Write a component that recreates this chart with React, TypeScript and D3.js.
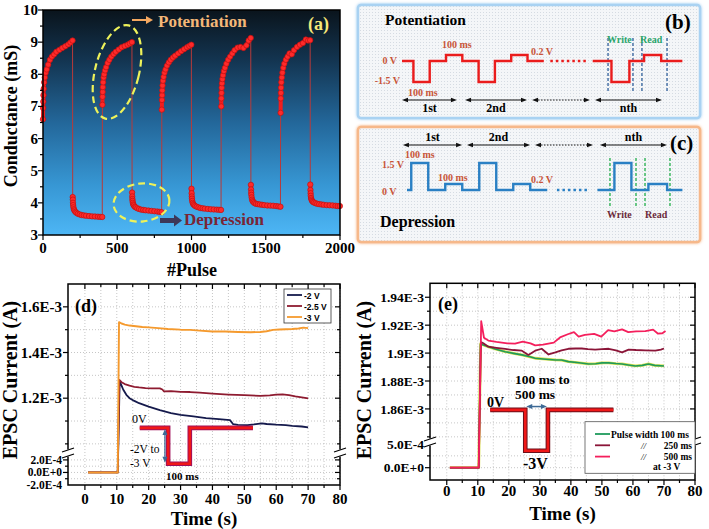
import React from "react";
import * as d3 from "d3";

const SERIF = "'Liberation Serif','Times New Roman',serif";
const SANS = "'Liberation Sans',Arial,sans-serif";

// ---------------- (a) conductance vs pulse ----------------
const pulseOffsets = [0, 1, 2, 3, 5, 8, 12, 18, 25, 35, 47, 60, 75, 90, 110, 130, 150, 170, 185, 199];
const segmentStarts = [0, 200, 400, 600, 800, 1000, 1200, 1400, 1600, 1800];
const potentiation1 = [6.6, 6.95, 7.15, 7.35, 7.55, 7.75, 7.9, 8.05, 8.15, 8.3, 8.45, 8.55, 8.62, 8.7, 8.76, 8.82, 8.87, 8.93, 8.99, 9.05];
const depression1 = [4.18, 4.1, 4.0, 3.93, 3.86, 3.8, 3.76, 3.72, 3.69, 3.66, 3.64, 3.62, 3.61, 3.6, 3.59, 3.58, 3.575, 3.57, 3.565, 3.56];
const potentiation2 = [7.05, 7.3, 7.45, 7.6, 7.75, 7.9, 8.0, 8.12, 8.22, 8.35, 8.45, 8.55, 8.63, 8.7, 8.77, 8.84, 8.88, 8.92, 8.96, 9.0];
const depression2 = [4.32, 4.2, 4.12, 4.06, 4.0, 3.95, 3.92, 3.88, 3.86, 3.83, 3.81, 3.79, 3.78, 3.77, 3.76, 3.75, 3.74, 3.73, 3.72, 3.71];
const potentiation3 = [6.9, 7.2, 7.35, 7.5, 7.65, 7.8, 7.92, 8.05, 8.15, 8.27, 8.37, 8.45, 8.52, 8.58, 8.65, 8.72, 8.78, 8.84, 8.88, 8.92];
const depression3 = [4.44, 4.3, 4.2, 4.13, 4.06, 4.0, 3.96, 3.93, 3.9, 3.88, 3.86, 3.84, 3.83, 3.82, 3.81, 3.8, 3.795, 3.79, 3.785, 3.78];
const potentiation4 = [7.0, 7.25, 7.42, 7.58, 7.72, 7.85, 7.97, 8.1, 8.2, 8.33, 8.45, 8.55, 8.65, 8.75, 8.83, 8.85, 8.82, 8.9, 9.05, 9.13];
const depression4 = [4.56, 4.42, 4.32, 4.25, 4.17, 4.1, 4.05, 4.02, 3.99, 3.97, 3.96, 3.95, 3.94, 3.93, 3.92, 3.915, 3.91, 3.9, 3.89, 3.88];
const potentiation5 = [6.8, 7.25, 7.42, 7.58, 7.75, 7.9, 8.05, 8.2, 8.33, 8.45, 8.55, 8.65, 8.62, 8.75, 8.85, 8.92, 8.97, 9.08, 9.05, 9.06];
const depression5 = [4.57, 4.4, 4.3, 4.22, 4.15, 4.1, 4.06, 4.03, 4.01, 3.99, 3.97, 3.96, 3.95, 3.94, 3.93, 3.925, 3.92, 3.91, 3.9, 3.9];
const conductanceSegments = [potentiation1, depression1, potentiation2, depression2, potentiation3, depression3, potentiation4, depression4, potentiation5, depression5];
const pulseTicks = [0, 500, 1000, 1500, 2000];
const conductanceTicks = [3, 4, 5, 6, 7, 8, 9, 10];

// ---------------- (b)/(c) schematic waveforms (t in 100 ms units, V in volts) ----------------
const potWaveFirst: [number, number][] = [[0, 0], [0.7, -1.5], [1.7, 0], [2.7, 0.2], [3.7, 0], [4.7, -1.5], [5.7, 0], [6.7, 0.2], [7.7, 0], [8.7, 0]];
const potWaveNth: [number, number][] = [[11.7, 0], [12.85, -1.5], [13.95, 0], [14.85, 0.2], [15.9, 0], [17.2, 0]];
const potDots: [number, number][] = [[9.1, 0], [11.3, 0]];
const potGuides = [12.64, 14.17, 14.72, 16.26];
const potArrows = [[0, 3.37, "1st"], [3.87, 7.67, "2nd"], [7.98, 11.53, ""], [11.84, 15.95, "nth"]];

const depWaveFirst: [number, number][] = [[0, 0], [0.25, 1.5], [1.25, 0], [2.25, 0.2], [3.25, 0], [4.25, 1.5], [5.25, 0], [6.25, 0.2], [7.25, 0], [8.25, 0]];
const depWaveNth: [number, number][] = [[11.2, 0], [12.2, 1.5], [13.2, 0], [14.2, 0.2], [15.3, 0], [16.2, 0]];
const depDots: [number, number][] = [[8.82, 0], [10.65, 0]];
const depGuides = [11.94, 13.47, 14.0, 15.47];
const depArrows = [[-0.24, 3.24, "1st"], [3.53, 7.24, "2nd"], [7.53, 10.94, ""], [11.35, 15.29, "nth"]];

// ---------------- (d) EPSC vs time, different amplitudes ----------------
const epscMinus2V: [number, number][] = [[1, 0], [10, 0], [10.3, 0], [10.9, 1.275e-3], [11.5, 1.255e-3], [12, 1.238e-3], [13, 1.215e-3], [14, 1.2e-3], [15.5, 1.188e-3], [17, 1.178e-3], [20, 1.163e-3], [23.5, 1.148e-3], [27, 1.135e-3], [30, 1.127e-3], [34, 1.12e-3], [38, 1.113e-3], [42, 1.108e-3], [45.5, 1.104e-3], [46.5, 1.086e-3], [48, 1.083e-3], [51, 1.082e-3], [53, 1.085e-3], [55.5, 1.09e-3], [57, 1.087e-3], [60, 1.084e-3], [63, 1.082e-3], [65, 1.079e-3], [68, 1.076e-3], [70, 1.072e-3]];
const epscMinus25V: [number, number][] = [[1, 0], [10, 0], [10.3, 0], [10.8, 1.28e-3], [11.5, 1.27e-3], [12.5, 1.262e-3], [14, 1.255e-3], [15.5, 1.25e-3], [17, 1.247e-3], [19, 1.244e-3], [21, 1.243e-3], [23.5, 1.243e-3], [24.3, 1.238e-3], [24.8, 1.23e-3], [27, 1.231e-3], [30, 1.228e-3], [33, 1.227e-3], [36, 1.224e-3], [40, 1.22e-3], [45, 1.216e-3], [50, 1.213e-3], [55, 1.21e-3], [58, 1.212e-3], [60, 1.216e-3], [62, 1.217e-3], [64, 1.213e-3], [66, 1.208e-3], [68, 1.204e-3], [70, 1.199e-3]];
const epscMinus3V: [number, number][] = [[1, 0], [10, 0], [10.3, 0], [10.7, 1.533e-3], [11.5, 1.527e-3], [12.5, 1.522e-3], [14, 1.518e-3], [16, 1.515e-3], [18, 1.512e-3], [20, 1.51e-3], [23, 1.507e-3], [26, 1.503e-3], [30, 1.5e-3], [33, 1.499e-3], [36, 1.496e-3], [40, 1.492e-3], [44, 1.492e-3], [48, 1.49e-3], [52, 1.489e-3], [55, 1.49e-3], [57, 1.493e-3], [59, 1.499e-3], [61, 1.501e-3], [63, 1.502e-3], [65, 1.503e-3], [67, 1.505e-3], [68.5, 1.509e-3], [70, 1.507e-3]];
const amplitudeLabels = ["-2 V", "-2.5 V", "-3 V"];
const dHighTicks = [1.2e-3, 1.4e-3, 1.6e-3];
const dHighTickLabels = ["1.2E-3", "1.4E-3", "1.6E-3"];
const dLowTicks = [-2e-4, 0, 2e-4];
const dLowTickLabels = ["-2.0E-4", "0.0E+0", "2.0E-4"];
const dHighGrid = [1.0e-3, 1.1e-3, 1.2e-3, 1.3e-3, 1.4e-3, 1.5e-3, 1.6e-3, 1.7e-3];
const dLowGrid = [-2e-4, -1e-4, 0, 1e-4, 2e-4];
const dInsetTimes = [17.2, 26.1, 32.9, 52.7];
const dInsetLevels = [1.07e-3, 0.139e-3];

// ---------------- (e) EPSC vs time, different pulse widths ----------------
const width100ms: [number, number][] = [[1, 0], [10, 0], [10.3, 0], [10.9, 1.9065e-3], [11.8, 1.9058e-3], [13.5, 1.9045e-3], [15.6, 1.903e-3], [18.8, 1.901e-3], [21.5, 1.8998e-3], [24.2, 1.8987e-3], [26.5, 1.8975e-3], [28.5, 1.8963e-3], [31, 1.8958e-3], [35, 1.8951e-3], [37, 1.895e-3], [39.2, 1.8939e-3], [42, 1.8932e-3], [45.7, 1.8922e-3], [48, 1.8924e-3], [50, 1.893e-3], [52.2, 1.893e-3], [54.5, 1.8925e-3], [56.5, 1.8922e-3], [58.5, 1.8915e-3], [60.8, 1.8908e-3], [63, 1.8912e-3], [65, 1.8922e-3], [67, 1.8912e-3], [70, 1.8908e-3]];
const width250ms: [number, number][] = [[1, 0], [10, 0], [10.3, 0], [11, 1.908e-3], [11.8, 1.907e-3], [13.4, 1.9046e-3], [16, 1.9038e-3], [18.8, 1.903e-3], [21.5, 1.9022e-3], [24.2, 1.9017e-3], [26.3, 1.8987e-3], [28.5, 1.9017e-3], [30.6, 1.9031e-3], [32.8, 1.899e-3], [35, 1.9005e-3], [37, 1.902e-3], [39.2, 1.9031e-3], [41.5, 1.9033e-3], [43.5, 1.9033e-3], [45.5, 1.9028e-3], [47.8, 1.9025e-3], [50, 1.9028e-3], [52.2, 1.9031e-3], [54.5, 1.902e-3], [56.5, 1.9005e-3], [58.6, 1.9025e-3], [61, 1.9022e-3], [64, 1.902e-3], [67.2, 1.9017e-3], [69, 1.9025e-3], [70, 1.9033e-3]];
const width500ms: [number, number][] = [[1, 0], [10, 0], [10.3, 0], [11.1, 1.9228e-3], [12, 1.911e-3], [13.4, 1.909e-3], [16, 1.908e-3], [19.5, 1.907e-3], [22, 1.9068e-3], [24.5, 1.9082e-3], [27, 1.907e-3], [28.5, 1.9055e-3], [31, 1.906e-3], [34.5, 1.9075e-3], [36.5, 1.9112e-3], [39, 1.9135e-3], [41, 1.915e-3], [42.5, 1.9118e-3], [44.5, 1.913e-3], [47.5, 1.9138e-3], [49.8, 1.9118e-3], [52, 1.9165e-3], [54, 1.9155e-3], [56.5, 1.917e-3], [58.5, 1.915e-3], [61, 1.9155e-3], [64, 1.9158e-3], [66.5, 1.9168e-3], [68, 1.914e-3], [69.5, 1.9142e-3], [70.5, 1.9158e-3]];
const eHighTicks = [1.86e-3, 1.88e-3, 1.9e-3, 1.92e-3, 1.94e-3];
const eHighTickLabels = ["1.86E-3", "1.88E-3", "1.9E-3", "1.92E-3", "1.94E-3"];
const eLowTicks = [0, 5e-4];
const eLowTickLabels = ["0.0E+0", "5.0E-4"];
const eHighGrid = [1.84e-3, 1.85e-3, 1.86e-3, 1.87e-3, 1.88e-3, 1.89e-3, 1.9e-3, 1.91e-3, 1.92e-3, 1.93e-3, 1.94e-3];
const eLowGrid = [-2.5e-4, 0, 2.5e-4];
const eInsetTimes = [14, 25.3, 32.6, 53.7];
const eInsetLevels = [1.8593e-3, 0.359e-3];
const eArrowLevel = 1.8617e-3;

const timeTicks = [0, 10, 20, 30, 40, 50, 60, 70, 80];

function PanelA() {
  const x = d3.scaleLinear().domain([0, 2000]).range([43, 340]);
  const y = d3.scaleLinear().domain([3, 10]).range([235, 10]);
  const segs = conductanceSegments.map((seg, i) => seg.map((v, j) => ({ p: segmentStarts[i] + pulseOffsets[j], v })));
  const all = segs.flat();
  const line = d3.line<{ p: number; v: number }>().x(d => x(d.p)).y(d => y(d.v));
  const yMinor = d3.range(3, 10.01, 0.5);
  const xMinor = d3.range(0, 2001, 250);
  return (
    <g>
      <defs>
        <linearGradient id="bgA" x1="0" y1="0" x2="0" y2="1">
          <stop offset="0" stopColor="#0a141c" />
          <stop offset="0.22" stopColor="#133450" />
          <stop offset="0.5" stopColor="#23679a" />
          <stop offset="0.78" stopColor="#3797d4" />
          <stop offset="1" stopColor="#4db6f5" />
        </linearGradient>
      </defs>
      <rect x={x(0)} y={y(10)} width={x(2000) - x(0)} height={y(3) - y(10)} fill="url(#bgA)" />
      <path d={line(all) || ""} fill="none" stroke="#b83a3a" strokeWidth={1} />
      {segs.map((s, i) => (
        <path key={i} d={line(s) || ""} fill="none" stroke="#f21d1d" strokeWidth={4} strokeLinecap="round" strokeLinejoin="round" />
      ))}
      {all.map((d, k) => (
        <circle key={k} cx={x(d.p)} cy={y(d.v)} r={2.7} fill="#ff2a2a" stroke="#c01010" strokeWidth={0.7} />
      ))}
      {/* annotations */}
      <ellipse cx={117} cy={72} rx={22} ry={48} transform="rotate(14 117 72)" fill="none" stroke="#eef25a" strokeWidth={2.2} strokeDasharray="7 4" />
      <ellipse cx={141.5} cy={202.5} rx={28} ry={19} transform="rotate(-6 141.5 202.5)" fill="none" stroke="#eef25a" strokeWidth={2.2} strokeDasharray="7 4" />
      <path d="M132,19 L146,19 L146,16 L153,20 L146,24 L146,21 L132,21 Z" fill="#f4a860" />
      <text x={158} y={27} fontFamily={SERIF} fontWeight="bold" fontSize={17} fill="#f3b778">Potentiation</text>
      <text x={308} y={30} fontFamily={SERIF} fontWeight="bold" fontSize={18} fill="#f7e87a">(a)</text>
      <path d="M160,218 L174,218 L174,214.5 L182,220.5 L174,226.5 L174,223 L160,223 Z" fill="#3d3759" />
      <text x={184} y={225} fontFamily={SERIF} fontWeight="bold" fontSize={17} fill="#7a2535">Depression</text>
      {/* frame and ticks */}
      <rect x={x(0)} y={y(10)} width={x(2000) - x(0)} height={y(3) - y(10)} fill="none" stroke="#000" strokeWidth={1.5} />
      {yMinor.map((v, i) => (
        <line key={i} x1={x(0)} x2={x(0) - (Number.isInteger(v) ? 5 : 3)} y1={y(v)} y2={y(v)} stroke="#000" strokeWidth={1.2} />
      ))}
      {xMinor.map((p, i) => (
        <line key={i} x1={x(p)} x2={x(p)} y1={y(3)} y2={y(3) + (p % 500 === 0 ? 5 : 3)} stroke="#000" strokeWidth={1.2} />
      ))}
      {conductanceTicks.map(v => (
        <text key={v} x={38} y={y(v) + 5} textAnchor="end" fontFamily={SERIF} fontWeight="bold" fontSize={15}>{v}</text>
      ))}
      {pulseTicks.map(p => (
        <text key={p} x={x(p)} y={253} textAnchor="middle" fontFamily={SERIF} fontWeight="bold" fontSize={15}>{p}</text>
      ))}
      <text x={192} y={276} textAnchor="middle" fontFamily={SERIF} fontWeight="bold" fontSize={18}>#Pulse</text>
      <text transform="translate(17,116) rotate(-90)" textAnchor="middle" fontFamily={SERIF} fontWeight="bold" fontSize={18}>Conductance (mS)</text>
    </g>
  );
}

function DoubleArrow({ x1, x2, y, dashed, color }: any) {
  return (
    <g>
      <line x1={x1 + 3} x2={x2 - 3} y1={y} y2={y} stroke={color} strokeWidth={1} strokeDasharray={dashed ? "1.5 1.5" : undefined} />
      <path d={`M${x1},${y} L${x1 + 6},${y - 2.2} L${x1 + 6},${y + 2.2} Z`} fill={color} />
      <path d={`M${x2},${y} L${x2 - 6},${y - 2.2} L${x2 - 6},${y + 2.2} Z`} fill={color} />
    </g>
  );
}

function PanelB() {
  const t = d3.scaleLinear().domain([0, 1]).range([402, 418.3]);
  const v = d3.scaleLinear().domain([-1.5, 0, 0.2]).range([82, 61, 55]);
  const line = d3.line<[number, number]>().x(d => t(d[0])).y(d => v(d[1])).curve(d3.curveStepAfter);
  const lab = { fontFamily: SERIF, fontWeight: "bold" as const, fontSize: 10, fill: "#c8553a" };
  return (
    <g>
      <rect x={358} y={5} width={342} height={113} rx={3} fill="url(#dots)" stroke="#a9d2f2" strokeWidth={2.5} filter="url(#glowB)" />
      <text x={385} y={25} fontFamily={SERIF} fontWeight="bold" fontSize={15.5}>Potentiation</text>
      <text x={665} y={29} fontFamily={SERIF} fontWeight="bold" fontSize={21}>(b)</text>
      {potGuides.map((g, i) => (
        <line key={i} x1={t(g)} x2={t(g)} y1={38} y2={92} stroke="#2f5f9a" strokeWidth={1.3} strokeDasharray="3 2" />
      ))}
      <path d={line(potWaveFirst) || ""} fill="none" stroke="#ea1c1c" strokeWidth={2.4} />
      <path d={line(potWaveNth) || ""} fill="none" stroke="#ea1c1c" strokeWidth={2.4} />
      <path d={line(potDots) || ""} fill="none" stroke="#ea1c1c" strokeWidth={2.4} strokeDasharray="2.5 3" />
      <text x={397} y={64} textAnchor="end" {...lab}>0 V</text>
      <text x={400} y={84} textAnchor="end" {...lab}>-1.5 V</text>
      <text x={442} y={48} {...lab}>100 ms</text>
      <text x={408} y={96} {...lab}>100 ms</text>
      <text x={531} y={55} {...lab}>0.2 V</text>
      <text x={607} y={43} fontFamily={SERIF} fontWeight="bold" fontSize={10} fill="#2aa56b">Write</text>
      <text x={640} y={43} fontFamily={SERIF} fontWeight="bold" fontSize={10} fill="#2aa56b">Read</text>
      {potArrows.map((a: any, i) => (
        <g key={i}>
          <DoubleArrow x1={t(a[0])} x2={t(a[1])} y={100} dashed={a[2] === ""} color="#111" />
          {a[2] && <text x={(t(a[0]) + t(a[1])) / 2} y={112} textAnchor="middle" fontFamily={SERIF} fontWeight="bold" fontSize={12}>{a[2]}</text>}
        </g>
      ))}
    </g>
  );
}

function PanelC() {
  const t = d3.scaleLinear().domain([0, 1]).range([407, 424]);
  const v = d3.scaleLinear().domain([0, 0.2, 1.5]).range([190, 184, 163]);
  const line = d3.line<[number, number]>().x(d => t(d[0])).y(d => v(d[1])).curve(d3.curveStepAfter);
  const lab = { fontFamily: SERIF, fontWeight: "bold" as const, fontSize: 10, fill: "#c8553a" };
  return (
    <g>
      <rect x={358} y={127} width={342} height={115} rx={3} fill="url(#dots)" stroke="#f6b88a" strokeWidth={2.5} filter="url(#glowC)" />
      {depArrows.map((a: any, i) => (
        <g key={i}>
          <DoubleArrow x1={t(a[0])} x2={t(a[1])} y={145} dashed={a[2] === ""} color="#111" />
          {a[2] && <text x={(t(a[0]) + t(a[1])) / 2} y={141} textAnchor="middle" fontFamily={SERIF} fontWeight="bold" fontSize={12}>{a[2]}</text>}
        </g>
      ))}
      <text x={670} y={150} fontFamily={SERIF} fontWeight="bold" fontSize={21}>(c)</text>
      {depGuides.map((g, i) => (
        <line key={i} x1={t(g)} x2={t(g)} y1={158} y2={208} stroke="#22b04a" strokeWidth={1.3} strokeDasharray="3 2" />
      ))}
      <path d={line(depWaveFirst) || ""} fill="none" stroke="#2a80c4" strokeWidth={2.4} />
      <path d={line(depWaveNth) || ""} fill="none" stroke="#2a80c4" strokeWidth={2.4} />
      <path d={line(depDots) || ""} fill="none" stroke="#2a80c4" strokeWidth={2.4} strokeDasharray="2.5 3" />
      <text x={382} y={168} {...lab}>1.5 V</text>
      <text x={382} y={195} {...lab}>0 V</text>
      <text x={405} y={158} {...lab}>100 ms</text>
      <text x={438} y={181} {...lab}>100 ms</text>
      <text x={531} y={183} {...lab}>0.2 V</text>
      <text x={607} y={218} fontFamily={SERIF} fontWeight="bold" fontSize={10} fill="#6b2a3a">Write</text>
      <text x={645} y={218} fontFamily={SERIF} fontWeight="bold" fontSize={10} fill="#6b2a3a">Read</text>
      <text x={380} y={227} fontFamily={SERIF} fontWeight="bold" fontSize={16}>Depression</text>
    </g>
  );
}

function BrokenPanel(p: any) {
  const x = d3.scaleLinear().domain(p.xDomain).range([p.left, p.right]);
  const yLow = d3.scaleLinear().domain(p.lowDomain).range([p.bottom, p.breakY]);
  const yHigh = d3.scaleLinear().domain(p.highDomain).range([p.breakY, p.top]);
  const split = (p.lowDomain[1] + p.highDomain[0]) / 2;
  const y = (v: number) => (v < split ? yLow(v) : yHigh(v));
  const line = d3.line<[number, number]>().x(d => x(d[0])).y(d => y(d[1]));
  const xs = d3.range(0, 81, 5);
  const gridYs: number[] = [...p.lowGrid.map((v: number) => yLow(v)), ...p.highGrid.map((v: number) => yHigh(v))].filter((g: number) => g > p.top + 1 && g < p.bottom - 1);
  const labeled = [...p.lowTicks.map((v: number) => yLow(v)), ...p.highTicks.map((v: number) => yHigh(v))];
  const [t0, t1, t2, t3] = p.insetTimes;
  const [hi, lo] = p.insetLevels;
  const inset: [number, number][] = [[t0, hi], [t1, hi], [t1, lo], [t2, lo], [t2, hi], [t3, hi]];
  const brk = (bx: number) => (
    <g>
      <rect x={bx - 4} y={p.breakY - 3.5} width={8} height={7} fill="#fff" />
      <line x1={bx - 6} y1={p.breakY - 1} x2={bx + 6} y2={p.breakY - 5} stroke="#000" strokeWidth={1.2} />
      <line x1={bx - 6} y1={p.breakY + 5} x2={bx + 6} y2={p.breakY + 1} stroke="#000" strokeWidth={1.2} />
    </g>
  );
  return (
    <g>
      <rect x={p.left} y={p.top} width={p.right - p.left} height={p.bottom - p.top} fill="#fff" />
      {xs.map(v => (
        <line key={v} x1={x(v)} x2={x(v)} y1={p.top} y2={p.bottom} stroke="#b8b8b8" strokeWidth={0.8} strokeDasharray="1 2" />
      ))}
      {gridYs.map((g, i) => (
        <line key={i} x1={p.left} x2={p.right} y1={g} y2={g} stroke="#b8b8b8" strokeWidth={0.8} strokeDasharray="1 2" />
      ))}
      {p.series.map((s: any, i: number) => (
        <g key={i}>
          {s.under && <path d={line(s.data) || ""} fill="none" stroke={s.under} strokeWidth={s.width + 1.2} strokeLinejoin="round" />}
          <path d={line(s.data) || ""} fill="none" stroke={s.color} strokeWidth={s.width} strokeLinejoin="round" />
        </g>
      ))}
      <path d={line(inset) || ""} fill="none" stroke={p.insetEdge} strokeWidth={4.6} />
      <path d={line(inset) || ""} fill="none" stroke="#f01818" strokeWidth={2.6} />
      <rect x={p.left} y={p.top} width={p.right - p.left} height={p.bottom - p.top} fill="none" stroke="#000" strokeWidth={1.5} />
      {xs.map(v => (
        <g key={v}>
          <line x1={x(v)} x2={x(v)} y1={p.bottom} y2={p.bottom + (v % 10 === 0 ? 5 : 3)} stroke="#000" strokeWidth={1.2} />
          <line x1={x(v)} x2={x(v)} y1={p.top} y2={p.top + (v % 10 === 0 ? 5 : 3)} stroke="#000" strokeWidth={1.2} />
        </g>
      ))}
      {gridYs.map((g, i) => {
        const major = labeled.some((l: number) => Math.abs(l - g) < 0.5);
        return (
          <g key={i}>
            <line x1={p.left} x2={p.left - (major ? 5 : 3)} y1={g} y2={g} stroke="#000" strokeWidth={1.2} />
            <line x1={p.right} x2={p.right - (major ? 5 : 3)} y1={g} y2={g} stroke="#000" strokeWidth={1.2} />
          </g>
        );
      })}
      {brk(p.left)}
      {brk(p.right)}
      {timeTicks.map(v => (
        <text key={v} x={x(v)} y={p.xLabelY} textAnchor="middle" fontFamily={SERIF} fontWeight="bold" fontSize={15}>{v}</text>
      ))}
      {p.highTicks.map((v: number, i: number) => (
        <text key={i} x={p.left - 6} y={yHigh(v) + p.highSize * 0.34} textAnchor="end" fontFamily={SERIF} fontWeight="bold" fontSize={p.highSize}>{p.highTickLabels[i]}</text>
      ))}
      {p.lowTicks.map((v: number, i: number) => (
        <text key={i} x={p.left - 6} y={yLow(v) + p.lowSize * 0.34} textAnchor="end" fontFamily={SERIF} fontWeight="bold" fontSize={p.lowSize}>{p.lowTickLabels[i]}</text>
      ))}
      <text x={(p.left + p.right) / 2} y={p.titleY} textAnchor="middle" fontFamily={SERIF} fontWeight="bold" fontSize={19}>Time (s)</text>
      <text transform={`translate(${p.yTitleX},${p.yTitleY}) rotate(-90)`} textAnchor="middle" fontFamily={SERIF} fontWeight="bold" fontSize={20}>EPSC Current (A)</text>
      <text x={p.left + p.tagDx} y={p.tagY} fontFamily={SERIF} fontWeight="bold" fontSize={18}>{p.tag}</text>
      {p.overlay && p.overlay(x, y)}
    </g>
  );
}

export default function App() {
  const dSeries = [
    { data: epscMinus2V, color: "#151a4c", width: 1.8 },
    { data: epscMinus25V, color: "#8e1b30", width: 1.8 },
    { data: epscMinus3V, color: "#f59a2e", width: 1.9 },
  ];
  const eSeries = [
    { data: width100ms, color: "#1f9a5c", width: 1.6, under: "#d7e04a" },
    { data: width250ms, color: "#8b1538", width: 1.8 },
    { data: width500ms, color: "#f41f5c", width: 1.8 },
  ];
  const dLegendColors = ["#151a4c", "#8e1b30", "#f59a2e"];
  const eLegend = [
    { color: "#1f9a5c", label: "Pulse width 100 ms" },
    { color: "#8b1538", label: "250 ms" },
    { color: "#f41f5c", label: "500 ms" },
  ];
  return (
    <svg width={709} height={529} style={{ position: "absolute", left: 0, top: 0, background: "#fff" }}>
      <defs>
        <pattern id="dots" width="3" height="3" patternUnits="userSpaceOnUse">
          <rect width="3" height="3" fill="#f4f6f8" />
          <rect width="1" height="1" fill="#d5dbe2" />
        </pattern>
        <filter id="glowB" x="-5%" y="-10%" width="110%" height="120%">
          <feDropShadow dx="0" dy="0" stdDeviation="1.6" floodColor="#8cc4f0" floodOpacity="0.9" />
        </filter>
        <filter id="glowC" x="-5%" y="-10%" width="110%" height="120%">
          <feDropShadow dx="0" dy="0" stdDeviation="1.6" floodColor="#f4a468" floodOpacity="0.9" />
        </filter>
      </defs>
      <PanelA />
      <PanelB />
      <PanelC />
      <BrokenPanel
        left={68} right={340} top={284} bottom={485} breakY={453}
        xDomain={[-5.3, 80]} lowDomain={[-2e-4, 0.31e-3]} highDomain={[0.96e-3, 1.7e-3]}
        highGrid={dHighGrid} lowGrid={dLowGrid}
        highTicks={dHighTicks} highTickLabels={dHighTickLabels} lowTicks={dLowTicks} lowTickLabels={dLowTickLabels}
        highSize={15} lowSize={11.5}
        series={dSeries} insetTimes={dInsetTimes} insetLevels={dInsetLevels} insetEdge="#a0105a"
        xLabelY={504} titleY={525} yTitleX={17} yTitleY={380}
        tag="(d)" tagDx={7} tagY={312}
        overlay={(x: any, y: any) => (
          <g>
            <line x1={x(25.1)} x2={x(25.1)} y1={y(dInsetLevels[0]) + 4} y2={y(dInsetLevels[1]) - 4} stroke="#3e6a96" strokeWidth={1.3} />
            <path d={`M${x(25.1)},${y(dInsetLevels[0]) + 1} l-2.5,6 l5,0 Z`} fill="#3e6a96" />
            <path d={`M${x(25.1)},${y(dInsetLevels[1]) - 1} l-2.5,-6 l5,0 Z`} fill="#3e6a96" />
            <text x={132} y={423} fontFamily={SERIF} fontSize={12}>0V</text>
            <text x={130} y={453} fontFamily={SERIF} fontSize={11.5}>-2V to</text>
            <text x={130} y={467} fontFamily={SERIF} fontSize={11.5}>-3 V</text>
            <text x={166} y={480} fontFamily={SERIF} fontWeight="bold" fontSize={11}>100 ms</text>
            <rect x={284} y={289} width={47} height={34} fill="#fff" stroke="#333" strokeWidth={0.8} />
            {amplitudeLabels.map((l, i) => (
              <g key={l}>
                <line x1={287} x2={302} y1={295 + i * 11} y2={295 + i * 11} stroke={dLegendColors[i]} strokeWidth={1.8} />
                <text x={304} y={298.5 + i * 11} fontFamily={SANS} fontWeight="bold" fontSize={8.5}>{l}</text>
              </g>
            ))}
          </g>
        )}
      />
      <BrokenPanel
        left={430} right={695} top={283.3} bottom={480} breakY={442}
        xDomain={[-5.4, 80]} lowDomain={[-0.26e-3, 0.543e-3]} highDomain={[1.8363e-3, 1.95e-3]}
        highGrid={eHighGrid} lowGrid={eLowGrid}
        highTicks={eHighTicks} highTickLabels={eHighTickLabels} lowTicks={eLowTicks} lowTickLabels={eLowTickLabels}
        highSize={13.5} lowSize={13.5}
        series={eSeries} insetTimes={eInsetTimes} insetLevels={eInsetLevels} insetEdge="#6b0f1a"
        xLabelY={496} titleY={520} yTitleX={371} yTitleY={380}
        tag="(e)" tagDx={8} tagY={310}
        overlay={(x: any, y: any) => (
          <g>
            <line x1={x(eInsetTimes[1]) + 4} x2={x(eInsetTimes[2]) - 4} y1={y(eArrowLevel)} y2={y(eArrowLevel)} stroke="#3e6a96" strokeWidth={1.5} />
            <path d={`M${x(eInsetTimes[1]) + 1},${y(eArrowLevel)} l6,-2.5 l0,5 Z`} fill="#3e6a96" />
            <path d={`M${x(eInsetTimes[2]) - 1},${y(eArrowLevel)} l-6,-2.5 l0,5 Z`} fill="#3e6a96" />
            <text x={487} y={407} fontFamily={SERIF} fontWeight="bold" fontSize={14}>0V</text>
            <text x={515} y={384} fontFamily={SERIF} fontWeight="bold" fontSize={13.5}>100 ms to</text>
            <text x={515} y={399} fontFamily={SERIF} fontWeight="bold" fontSize={13.5}>500 ms</text>
            <text x={523} y={469} fontFamily={SERIF} fontWeight="bold" fontSize={16}>-3V</text>
            <rect x={585} y={421.7} width={110} height={51.6} fill="#fff" stroke="#555" strokeWidth={0.8} />
            {eLegend.map((e, i) => (
              <g key={i}>
                <line x1={595} x2={610} y1={434 + i * 11.3} y2={434 + i * 11.3} stroke={e.color} strokeWidth={1.8} />
                {i === 0 ? (
                  <text x={611} y={437.5} fontFamily={SERIF} fontWeight="bold" fontSize={9.5}>{e.label}</text>
                ) : (
                  <g>
                    <text x={641} y={437.5 + i * 11.3} fontFamily={SERIF} fontStyle="italic" fontSize={9}>//</text>
                    <text x={692} y={437.5 + i * 11.3} textAnchor="end" fontFamily={SERIF} fontWeight="bold" fontSize={9.5}>{e.label}</text>
                  </g>
                )}
              </g>
            ))}
            <text x={653} y={470} fontFamily={SERIF} fontWeight="bold" fontSize={9.5}>at -3 V</text>
          </g>
        )}
      />
    </svg>
  );
}
